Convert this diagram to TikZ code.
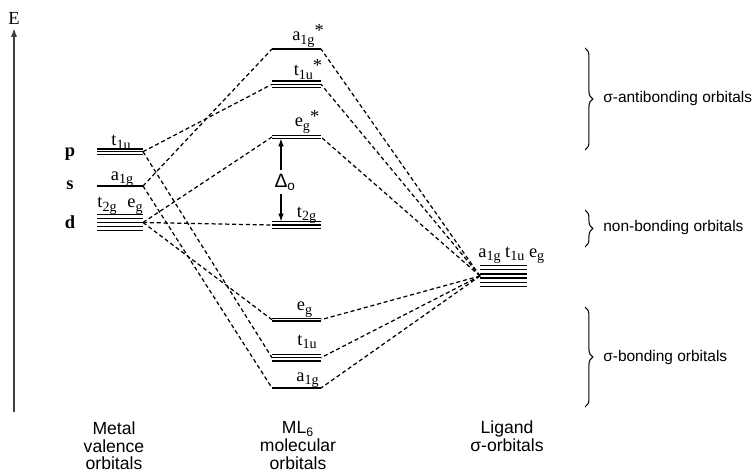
\documentclass[tikz,border=0pt]{standalone}
\usepackage{fontspec}
\setmainfont{Liberation Serif}
\setsansfont{Liberation Sans}
\usetikzlibrary{arrows.meta,decorations.pathreplacing}

% orbital symbol with its lowered index
\newcommand{\orb}[2]{#1\raisebox{-0.45ex}{\footnotesize #2}}
% one energy level: name, left x, middle y, number of lines, width, gap
\newcommand{\mylevel}[6]{%
  \foreach \k in {1,...,#4}
    \draw[orbline] (#2,{#3+(\k-(#4+1)/2)*#6}) -- ++(#5,0);
  \coordinate (#1-l) at (#2,#3);
  \coordinate (#1-r) at ({#2+#5},#3);
}

\begin{document}
\begin{tikzpicture}[x=0.02cm, y=-0.02cm,
  orbline/.style={line width=0.75pt},
  mix/.style={line width=0.7pt, dash pattern=on 2.3pt off 1.6pt},
  lab/.style={font=\fontsize{10.5}{12}\selectfont, anchor=base, inner sep=0pt},
  txt/.style={font=\sffamily\fontsize{8.8}{10.2}\selectfont, align=center, inner sep=0pt},
  col/.style={font=\sffamily\fontsize{10}{10.2}\selectfont, align=center, inner sep=0pt, anchor=north},
  brc/.style={decorate, decoration={brace, amplitude=4.5pt}, line width=0.6pt}]
\useasboundingbox (0,0) rectangle (753,476);

% energy axis
\coordinate (e0) at (14,412);
\node[lab] (E) at (14,25) {E};
\draw[-{Latex[length=5pt,width=3.5pt]}, line width=0.8pt, black!75, shorten >=1.5pt] (e0) -- (E.south);

% metal valence orbitals
\mylevel{mp}{97}{151.7}{3}{46}{2.6}
\mylevel{ms}{97}{186}{1}{46}{0}
\mylevel{md}{97}{222.5}{5}{46}{4}
\node[lab] (lp) at (70,156.7) {\textbf{p}};
\node[lab] (ls) at (70,190) {\textbf{s}};
\node[lab] (ld) at (70,228) {\textbf{d}};
\node[lab] (mpt) at (121,145.7) {\orb{t}{1u}};
\node[lab] (msa) at (122,180) {\orb{a}{1g}};
\node[lab] (mdt) at (107,208) {\orb{t}{2g}};
\node[lab] (mde) at (135,208) {\orb{e}{g}};

% molecular orbitals
\mylevel{as}{272}{49}{1}{49}{0}
\mylevel{ts}{272}{84.3}{3}{49}{3.3}
\mylevel{es}{272}{137}{2}{49}{2.7}
\mylevel{tn}{272}{225}{3}{49}{3.3}
\mylevel{eb}{272}{319.7}{2}{49}{2.7}
\mylevel{tb}{272}{357.7}{3}{49}{3.3}
\mylevel{ab}{272}{388}{1}{49}{0}
\node[lab] (asl) at (308,41) {\orb{a}{1g}\raisebox{0.5ex}{*}};
\node[lab] (tsl) at (308,76) {\orb{t}{1u}\raisebox{0.5ex}{*}};
\node[lab] (esl) at (307,127) {\orb{e}{g}\raisebox{0.5ex}{*}};
\node[lab] (tnl) at (306.5,217) {\orb{t}{2g}};
\node[lab] (ebl) at (304.5,310.7) {\orb{e}{g}};
\node[lab] (tbl) at (307,345) {\orb{t}{1u}};
\node[lab] (abl) at (307.5,381) {\orb{a}{1g}};

% splitting
\node[font=\sffamily\fontsize{11}{12}\selectfont, inner sep=2pt] (dlt) at (281,182) {Δ\rlap{\textsubscript{o}}};
\draw[-{Latex[length=4.5pt,width=3.2pt]}, line width=0.7pt, shorten >=0.8pt] (dlt.north) -- (dlt.north |- es-l);
\draw[-{Latex[length=4.5pt,width=3.2pt]}, line width=0.7pt, shorten >=2pt] (dlt.south) -- (dlt.south |- tn-l);

% ligand orbitals
\mylevel{lg}{480}{276}{6}{47}{4.3}
\node[lab, anchor=base west] (lgl) at (478,257) {\orb{a}{1g} \orb{t}{1u} \orb{e}{g}};

% mixing
\foreach \a/\b in {mp/ts, mp/tb, ms/as, ms/ab, md/es, md/tn, md/eb}
  \draw[mix] (\a-r) -- (\b-l);
\foreach \b in {as, ts, es, eb, tb, ab}
  \draw[mix] (lg-l) -- (\b-r);

% groups
\draw[brc] (585,48) -- (585,150);
\draw[brc] (585,210) -- (585,247);
\draw[brc] (585,307) -- (585,407);
\node[txt, anchor=west] (anti) at (603,99) {σ-antibonding orbitals};
\node[txt, anchor=west] (nonb) at (603,228) {non-bonding orbitals};
\node[txt, anchor=west] (bond) at (603,357) {σ-bonding orbitals};

% columns
\node[col] (metal) at (114,421) {Metal\\valence\\orbitals};
\node[col] (ml) at (298,421) {ML\textsubscript{6}\\molecular\\orbitals};
\node[col] (lig) at (507,420) {Ligand\\σ-orbitals};
\end{tikzpicture}
\end{document}
